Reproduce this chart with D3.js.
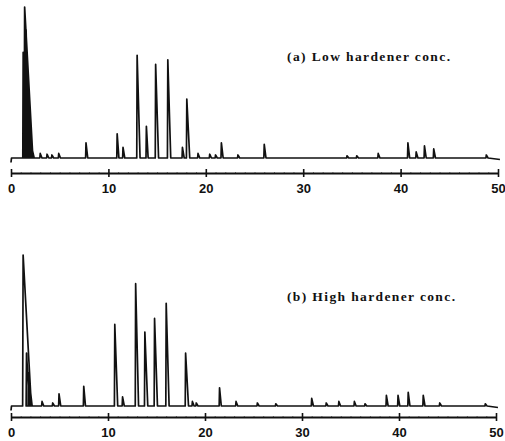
<!DOCTYPE html>
<html>
<head>
<meta charset="utf-8">
<script src="https://cdn.jsdelivr.net/npm/d3@7"></script>
<style>
  body { margin: 0; background: #fff; }
  svg { display: block; }
</style>
</head>
<body>
<div id="chart"></div>
<script>
// retention time (min) and relative response (% of solvent peak)
const ticksMin = [0, 10, 20, 30, 40, 50];

const timesA = [1.25, 1.4, 1.55, 1.7, 1.85, 2.0, 2.2, 3.0, 3.7, 4.2, 4.9, 7.7, 10.9, 11.5, 12.95, 13.9, 14.85, 16.1,
  17.6, 18.05, 19.2, 20.4, 21.0, 21.6, 23.3, 26.0, 34.5, 35.5, 37.7, 40.75, 41.6, 42.45, 43.4, 48.8];
const valuesA = [70, 100, 85, 62, 40, 22, 5, 3, 2.5, 2, 3, 10, 16, 7, 68, 21, 62, 65,
  7, 39, 3, 2.5, 2, 10, 2, 9, 1.5, 1.5, 3, 10, 4, 8, 6, 2];

const timesB = [1.25, 1.6, 1.8, 2.0, 3.2, 4.3, 4.95, 7.5, 10.7, 11.5, 12.85, 13.8, 14.8, 16.0, 18.0, 18.7, 19.1,
  21.5, 23.2, 25.4, 27.3, 31.0, 32.5, 33.8, 35.4, 36.5, 38.7, 39.9, 40.95, 42.5, 44.2, 48.9];
const valuesB = [100, 35, 22, 10, 3, 2, 8, 13, 54, 6, 81, 49, 58, 68, 35, 3, 2,
  12, 3, 2, 1.5, 5, 2, 3, 3, 1.5, 7, 7, 9, 7, 2, 1.5];

const labelA = "(a) Low hardener conc.";
const labelB = "(b) High hardener conc.";

const width = 505, height = 441;

const svg = d3.select("#chart").append("svg")
  .attr("width", width)
  .attr("height", height);

function drawPanel(times, values, label, opt) {
  const x = d3.scaleLinear().domain([0, 50]).range([11, opt.xEnd]);
  const y = d3.scaleLinear().domain([0, 100]).range([opt.base, opt.top]);

  // trace: each peak as a sharp rise and a tailing fall
  const pts = [[0, -3], [0.05, 0]];
  times.forEach((t, i) => {
    const v = values[i];
    const big = v >= 90;
    const rise = big ? 0.05 : 0.04;
    const fall = big ? 0.85 : (v > 30 ? 0.3 : 0.18);
    pts.push([t - rise, 0], [t, v], [t + fall, 0]);
  });
  pts.push([50.2, -1]);

  const line = d3.line()
    .x(d => x(d[0]))
    .y(d => y(d[1]));

  svg.append("path")
    .datum(pts)
    .attr("fill", "none")
    .attr("stroke", "#111")
    .attr("stroke-width", 1.7)
    .attr("stroke-linejoin", "round")
    .attr("d", line);

  // time axis
  const g = svg.append("g")
    .attr("transform", `translate(0, ${opt.axisY})`);

  g.append("g")
    .call(d3.axisBottom(x).tickValues(d3.range(0, 51, 1)).tickSize(2).tickFormat(""))
    .call(a => a.select(".domain").remove())
    .call(a => a.selectAll("line").attr("stroke", "#888").attr("y1", -1).attr("y2", 1));

  g.append("g")
    .call(d3.axisBottom(x).tickValues(ticksMin).tickSize(4).tickSizeOuter(0).tickPadding(7))
    .call(a => a.select(".domain").attr("stroke", "#111").attr("stroke-width", 2))
    .call(a => a.selectAll(".tick line").attr("stroke", "#111").attr("stroke-width", 1.6).attr("y1", -4).attr("y2", 4))
    .call(a => a.selectAll("text")
      .attr("font-family", "Liberation Sans, Arial, sans-serif")
      .attr("font-weight", "bold")
      .attr("font-size", 13)
      .attr("fill", "#111"));

  svg.append("text")
    .attr("x", opt.labelX)
    .attr("y", opt.labelY)
    .attr("font-family", "Liberation Serif, Times New Roman, serif")
    .attr("font-weight", "bold")
    .attr("font-size", 13.5)
    .attr("textLength", opt.labelLen)
    .attr("fill", "#111")
    .text(label);
}

drawPanel(timesA, valuesA, labelA, {
  xEnd: 498, base: 158, top: 7, axisY: 173,
  labelX: 287, labelY: 61, labelLen: 163
});

drawPanel(timesB, valuesB, labelB, {
  xEnd: 496, base: 406, top: 255, axisY: 417,
  labelX: 287, labelY: 301, labelLen: 168
});
</script>
</body>
</html>
